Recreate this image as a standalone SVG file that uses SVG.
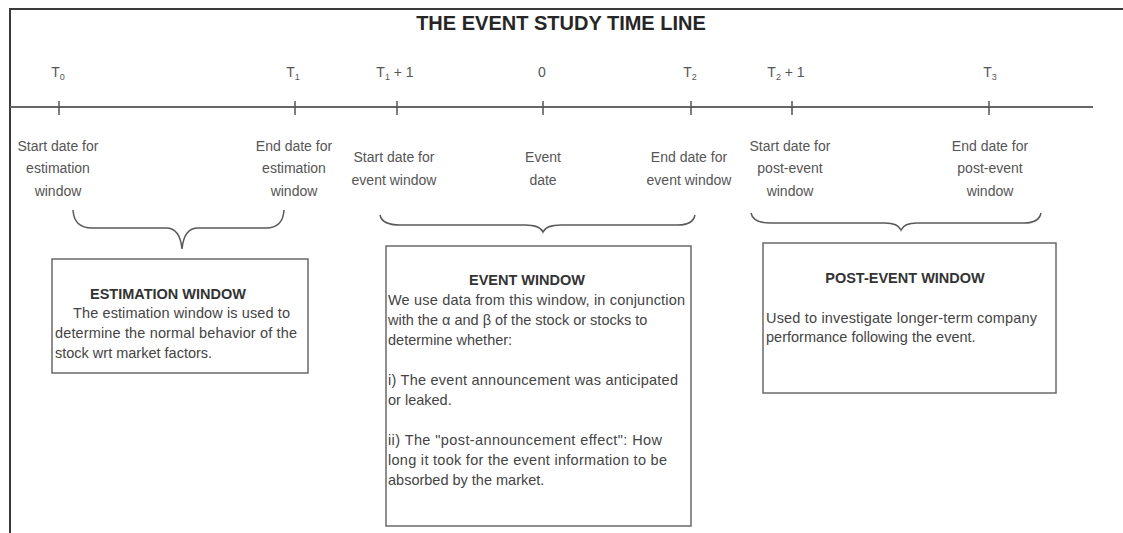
<svg xmlns="http://www.w3.org/2000/svg" width="1123" height="533" viewBox="0 0 1123 533">
<style>
  text { font-family: "Liberation Sans", Arial, sans-serif; }
  .title { font-size: 20px; font-weight: bold; fill: #262626; text-anchor: middle; }
  .tick-label { font-size: 14px; fill: #555; text-anchor: middle; }
  .sub { font-size: 9px; }
  .lbl { font-size: 14px; fill: #555; text-anchor: middle; }
  .head { font-size: 14.5px; font-weight: bold; fill: #333; text-anchor: middle; }
  .body { font-size: 14.5px; fill: #444; }
  .box { fill: #fff; stroke: #6a6a6a; stroke-width: 1.5; }
  .axis { stroke: #666; stroke-width: 2; fill: none; }
  .tick { stroke: #555; stroke-width: 1.5; }
  .brace { fill: none; stroke: #5a5a5a; stroke-width: 1.5; }
  .frame { stroke: #3a3a3a; stroke-width: 2; fill: none; }
</style>
<rect x="0" y="0" width="1123" height="533" fill="#fff"/>
<g id="frame">
  <line class="frame" x1="9" y1="9" x2="1123" y2="9"/>
  <line class="frame" x1="10" y1="9" x2="10" y2="533"/>
</g>
<g id="title">
  <text class="title" x="561" y="30">THE EVENT STUDY TIME LINE</text>
</g>
<g id="connectors">
  <line class="axis" x1="10" y1="107" x2="1093" y2="107"/>
  <line class="tick" x1="59" y1="101" x2="59" y2="115"/>
  <line class="tick" x1="295" y1="101" x2="295" y2="115"/>
  <line class="tick" x1="397" y1="101" x2="397" y2="115"/>
  <line class="tick" x1="543" y1="101" x2="543" y2="115"/>
  <line class="tick" x1="691" y1="101" x2="691" y2="115"/>
  <line class="tick" x1="792" y1="101" x2="792" y2="115"/>
  <line class="tick" x1="989" y1="101" x2="989" y2="115"/>
  <path class="brace" d="M73,210 Q74,228 92,228 L166,228 Q180,228 182,249 Q184,228 198,228 L266,228 Q283,228 284,210"/>
  <path class="brace" d="M380,215 Q382,225 400,225 L525,225 Q540,225 543,232 Q546,225 561,225 L678,225 Q693,225 695,215"/>
  <path class="brace" d="M751,213 Q753,223 770,223 L885,223 Q898,223 901,230 Q904,223 917,223 L1024,223 Q1039,223 1041,213"/>
</g>
<g id="tick-labels">
  <text class="tick-label" x="58" y="77">T<tspan class="sub" dy="3">0</tspan></text>
  <text class="tick-label" x="293" y="77">T<tspan class="sub" dy="3">1</tspan></text>
  <text class="tick-label" x="395" y="77">T<tspan class="sub" dy="3">1</tspan><tspan dy="-3"> + 1</tspan></text>
  <text class="tick-label" x="542" y="77">0</text>
  <text class="tick-label" x="690" y="77">T<tspan class="sub" dy="3">2</tspan></text>
  <text class="tick-label" x="786" y="77">T<tspan class="sub" dy="3">2</tspan><tspan dy="-3"> + 1</tspan></text>
  <text class="tick-label" x="990" y="77">T<tspan class="sub" dy="3">3</tspan></text>
</g>
<g id="label-start-estimation">
  <text class="lbl" x="58" y="151">Start date for</text>
  <text class="lbl" x="58" y="173">estimation</text>
  <text class="lbl" x="58" y="196">window</text>
</g>
<g id="label-end-estimation">
  <text class="lbl" x="294" y="151">End date for</text>
  <text class="lbl" x="294" y="173">estimation</text>
  <text class="lbl" x="294" y="196">window</text>
</g>
<g id="label-start-event">
  <text class="lbl" x="394" y="162">Start date for</text>
  <text class="lbl" x="394" y="185">event window</text>
</g>
<g id="label-event-date">
  <text class="lbl" x="543" y="162">Event</text>
  <text class="lbl" x="543" y="185">date</text>
</g>
<g id="label-end-event">
  <text class="lbl" x="689" y="162">End date for</text>
  <text class="lbl" x="689" y="185">event window</text>
</g>
<g id="label-start-post">
  <text class="lbl" x="790" y="151">Start date for</text>
  <text class="lbl" x="790" y="173">post-event</text>
  <text class="lbl" x="790" y="196">window</text>
</g>
<g id="label-end-post">
  <text class="lbl" x="990" y="151">End date for</text>
  <text class="lbl" x="990" y="173">post-event</text>
  <text class="lbl" x="990" y="196">window</text>
</g>
<g id="estimation-window">
  <rect class="box" x="52" y="259" width="256" height="114"/>
  <text class="head" x="168" y="299">ESTIMATION WINDOW</text>
  <text class="body" x="73" y="318" textLength="217" lengthAdjust="spacing">The estimation window is used to</text>
  <text class="body" x="55" y="338" textLength="242" lengthAdjust="spacing">determine the normal behavior of the</text>
  <text class="body" x="55" y="358">stock wrt market factors.</text>
</g>
<g id="event-window">
  <rect class="box" x="386" y="246" width="305" height="280"/>
  <text class="head" x="527" y="285">EVENT WINDOW</text>
  <text class="body" x="388" y="305" textLength="297" lengthAdjust="spacing">We use data from this window, in conjunction</text>
  <text class="body" x="388" y="325">with the α and β of the stock or stocks to</text>
  <text class="body" x="388" y="345">determine whether:</text>
  <text class="body" x="388" y="385" textLength="290" lengthAdjust="spacing">i) The event announcement was anticipated</text>
  <text class="body" x="388" y="405">or leaked.</text>
  <text class="body" x="388" y="445" textLength="274" lengthAdjust="spacing">ii) The "post-announcement effect":  How</text>
  <text class="body" x="388" y="465" textLength="279" lengthAdjust="spacing">long it took for the event information to be</text>
  <text class="body" x="388" y="485">absorbed by the market.</text>
</g>
<g id="post-event-window">
  <rect class="box" x="763" y="243" width="293" height="150"/>
  <text class="head" x="905" y="283">POST-EVENT WINDOW</text>
  <text class="body" x="766" y="323" textLength="271" lengthAdjust="spacing">Used to investigate longer-term company</text>
  <text class="body" x="766" y="342">performance following the event.</text>
</g>
</svg>
